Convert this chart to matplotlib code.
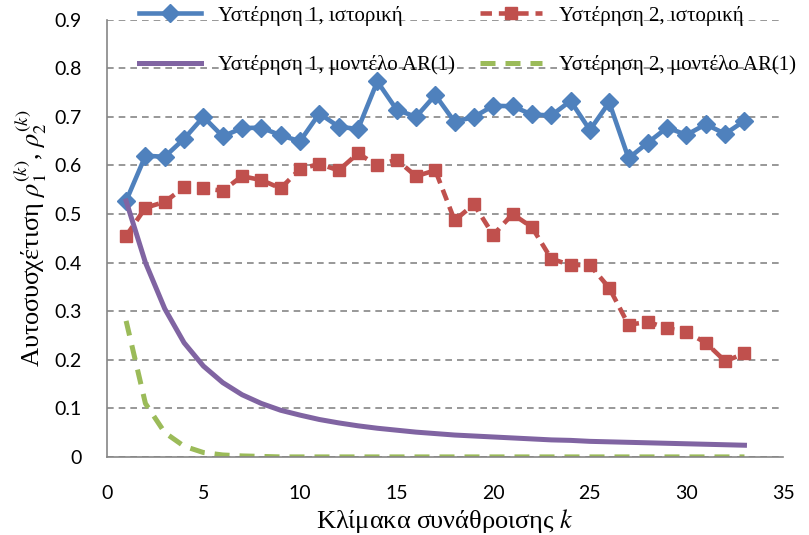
import matplotlib.pyplot as plt
import numpy as np

# aggregation scale k
k = np.arange(1, 34)

lag1_hist = [0.527, 0.620, 0.618, 0.655, 0.700, 0.660, 0.677, 0.678, 0.662, 0.650,
             0.707, 0.680, 0.675, 0.773, 0.715, 0.700, 0.745, 0.690, 0.700, 0.723,
             0.722, 0.705, 0.703, 0.733, 0.673, 0.730, 0.615, 0.647, 0.678, 0.663,
             0.685, 0.665, 0.692]
lag2_hist = [0.455, 0.513, 0.525, 0.555, 0.553, 0.548, 0.578, 0.570, 0.553, 0.593,
             0.603, 0.590, 0.625, 0.600, 0.612, 0.578, 0.590, 0.487, 0.520, 0.457,
             0.500, 0.473, 0.408, 0.395, 0.395, 0.348, 0.272, 0.278, 0.265, 0.257,
             0.235, 0.197, 0.213]
lag1_ar = [0.527, 0.400, 0.305, 0.235, 0.187, 0.153, 0.128, 0.110, 0.096, 0.086,
           0.077, 0.070, 0.064, 0.059, 0.055, 0.051, 0.048, 0.045, 0.043, 0.041,
           0.039, 0.037, 0.035, 0.034, 0.032, 0.031, 0.030, 0.029, 0.028, 0.027,
           0.026, 0.025, 0.024]
lag2_ar = [0.280, 0.110, 0.050, 0.022, 0.009, 0.004, 0.002, 0.001, 0.0, 0.0,
           0.0, 0.0, 0.0, 0.0, 0.0, 0.0, 0.0, 0.0, 0.0, 0.0,
           0.0, 0.0, 0.0, 0.0, 0.0, 0.0, 0.0, 0.0, 0.0, 0.0,
           0.0, 0.0, 0.0]

labels = ["Υστέρηση 1, ιστορική", "Υστέρηση 2, ιστορική",
          "Υστέρηση 1, μοντέλο AR(1)", "Υστέρηση 2, μοντέλο AR(1)"]

plt.rcParams['mathtext.fontset'] = 'stix'

fig = plt.figure(figsize=(8.09, 5.35), dpi=100)
ax = fig.add_axes([0.132, 0.146, 0.836, 0.817])

l1, = ax.plot(k, lag1_hist, color="#4F81BD", lw=3.3, marker="D", ms=9, label=labels[0])
l2, = ax.plot(k, lag2_hist, color="#C0504D", lw=3.3, ls=(0, (2.5, 1.5)), marker="s", ms=8.5, label=labels[1])
l3, = ax.plot(k, lag1_ar, color="#8064A2", lw=3.6, label=labels[2])
l4, = ax.plot(k, lag2_ar, color="#9BBB59", lw=3.6, ls=(0, (3, 2)), label=labels[3])

ax.set_xlim(0, 35)
ax.set_ylim(0, 0.9)
ax.set_xticks(np.arange(0, 36, 5))
ax.set_yticks(np.arange(0, 0.91, 0.1))
ax.set_yticklabels(["0"] + ["%.1f" % v for v in np.arange(0.1, 0.91, 0.1)])

ax.yaxis.grid(True, color="#868686", ls=(0, (4, 3)), lw=1.2)
ax.set_axisbelow(True)
for s in ["top", "right"]:
    ax.spines[s].set_visible(False)
for s in ["left", "bottom"]:
    ax.spines[s].set_color("#868686")
    ax.spines[s].set_linewidth(1.2)
ax.tick_params(length=0, labelsize=14)
ax.tick_params(axis="x", pad=20)
ax.tick_params(axis="y", pad=18)
for t in ax.get_xticklabels() + ax.get_yticklabels():
    t.set_family("Lato")

ax.set_xlabel("Κλίμακα συνάθροισης $k$", family="Liberation Serif", fontsize=19, labelpad=4)
ax.set_ylabel("Αυτοσυσχέτιση $\\rho_1^{(k)}$, $\\rho_2^{(k)}$", family="Liberation Serif",
              fontsize=19, labelpad=4)

# legend order so that row 1 = historical, row 2 = AR(1)
leg = ax.legend([l1, l3, l2, l4], [labels[0], labels[2], labels[1], labels[3]],
                loc="upper center", bbox_to_anchor=(0.533, 1.075), ncol=2, frameon=False,
                prop={"family": "Liberation Serif", "size": 15}, handlelength=3.0,
                columnspacing=1.2, labelspacing=1.4)

fig.savefig("out.png", dpi=100)
